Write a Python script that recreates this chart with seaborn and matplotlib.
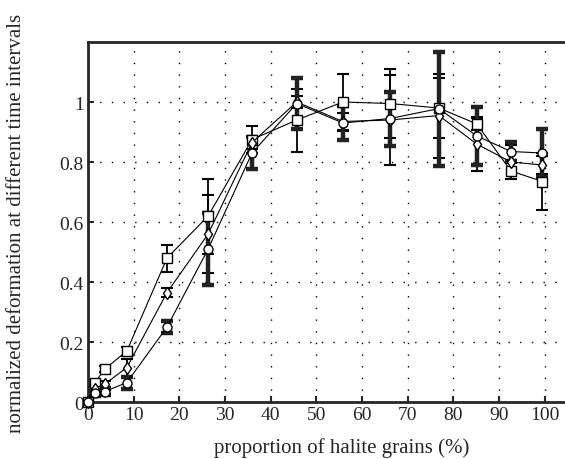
import numpy as np
import pandas as pd
import matplotlib
matplotlib.use("Agg")
import matplotlib.pyplot as plt
import seaborn as sns

# proportion of halite grains (%)
halite = [0, 1.5, 3.7, 8.5, 17.3, 26.3, 35.9, 45.7, 55.8, 66.1, 76.8, 85.1, 92.6, 99.5]

# normalized deformation, three time intervals
square_y = [0, 0.065, 0.11, 0.17, 0.48, 0.62, 0.875, 0.94, 1.0, 0.995, 0.98, 0.927, 0.77, 0.735]
diamond_y = [0, 0.045, 0.06, 0.115, 0.365, 0.56, 0.865, 1.0, 0.935, 0.94, 0.955, 0.86, 0.80, 0.79]
circle_y = [0, 0.03, 0.035, 0.065, 0.25, 0.51, 0.83, 0.995, 0.93, 0.945, 0.978, 0.887, 0.835, 0.83]

# error bar half widths
square_err = [0, 0.01, 0.01, 0.015, 0.045, 0.125, 0.045, 0.105, 0.093, 0.115, 0.10, 0.02, 0.027, 0.095]
diamond_err = [0, 0.01, 0.01, 0.03, 0.015, 0.13, 0.02, 0.02, 0.03, 0.15, 0.14, 0.09, 0.057, 0.03]
circle_err = [0, 0.01, 0.01, 0.02, 0.02, 0.12, 0.053, 0.085, 0.057, 0.09, 0.19, 0.097, 0.032, 0.08]

sns.set_style("ticks")
plt.rcParams["font.family"] = ["Liberation Serif", "DejaVu Serif"]

df = pd.DataFrame({
    "halite": halite * 3,
    "deformation": square_y + diamond_y + circle_y,
    "series": ["square"] * len(halite) + ["diamond"] * len(halite) + ["circle"] * len(halite),
})

fig = plt.figure(figsize=(5.65, 4.6), dpi=100)
# the original figure is cropped on the right, so the axes run past the edge
ax = fig.add_axes([0.1558, 0.1239, 0.8973, 0.7826])

# error bars first so markers sit on top
ax.errorbar(halite, square_y, yerr=square_err, fmt="none", ecolor="black",
            elinewidth=1.3, capsize=4, capthick=1.5, zorder=2)
ax.errorbar(halite, diamond_y, yerr=diamond_err, fmt="none", ecolor="black",
            elinewidth=1.3, capsize=4, capthick=1.5, zorder=2)
ax.errorbar(halite, circle_y, yerr=circle_err, fmt="none", ecolor="#222222",
            elinewidth=3.2, capsize=4, capthick=3.2, zorder=2)

sns.lineplot(data=df, x="halite", y="deformation", style="series",
             markers={"square": "s", "diamond": "d", "circle": "o"},
             dashes=False, color="black", linewidth=0.8,
             markersize=6.5, markerfacecolor="white", markeredgecolor="black",
             markeredgewidth=1.0, legend=False, ax=ax, zorder=3, clip_on=False)

ax.set_xlim(0, 111)
ax.set_ylim(0, 1.2)
ax.set_xticks(range(0, 101, 10))
ax.set_yticks([0, 0.2, 0.4, 0.6, 0.8, 1.0])
ax.set_yticklabels(["0", "0.2", "0.4", "0.6", "0.8", "1"])

ax.grid(True, color="black", linestyle=(0, (1, 7.4)), linewidth=1.0)
ax.tick_params(direction="in", length=4, width=1.5, labelsize=14, pad=3)

for side in ["left", "bottom", "top"]:
    ax.spines[side].set_linewidth(2)
ax.spines["right"].set_visible(False)

ax.set_xlabel("proportion of halite grains (%)", fontsize=15, labelpad=10)
ax.set_ylabel("normalized deformation at different time intervals", fontsize=15)
ax.yaxis.set_label_coords(-(88 - 26) / 507, 0.5)

fig.savefig("out.png", dpi=100)
